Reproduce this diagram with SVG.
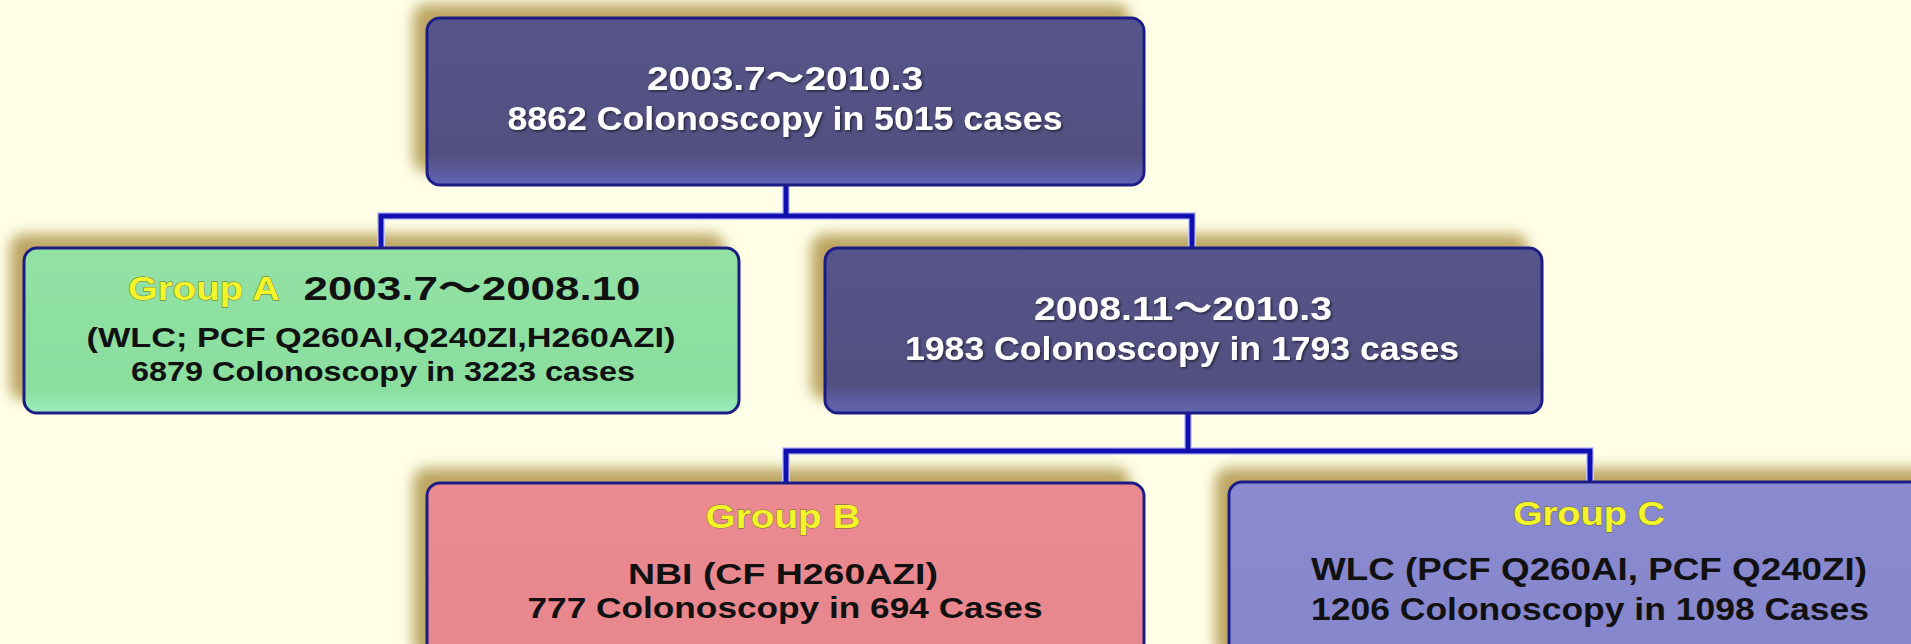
<svg xmlns="http://www.w3.org/2000/svg" width="1911" height="644" viewBox="0 0 1911 644">
<defs>
<filter id="blur" x="-10%" y="-30%" width="120%" height="160%"><feGaussianBlur stdDeviation="7"/></filter>
<filter id="tsh" x="-5%" y="-20%" width="110%" height="140%"><feDropShadow dx="1.5" dy="1.5" stdDeviation="0.8" flood-color="#000" flood-opacity="0.55"/></filter>
<linearGradient id="gDark" x1="0" y1="0" x2="0" y2="1">
<stop offset="0" stop-color="#57548A"/><stop offset="0.82" stop-color="#524F80"/><stop offset="1" stop-color="#6264B4"/></linearGradient>
<linearGradient id="gGreen" x1="0" y1="0" x2="0" y2="1">
<stop offset="0" stop-color="#92E2A4"/><stop offset="0.85" stop-color="#8ADE9E"/><stop offset="1" stop-color="#9EECC0"/></linearGradient>
<linearGradient id="gPink" x1="0" y1="0" x2="0" y2="1">
<stop offset="0" stop-color="#EC8A92"/><stop offset="1" stop-color="#E8868E"/></linearGradient>
<linearGradient id="gLav" x1="0" y1="0" x2="0" y2="1">
<stop offset="0" stop-color="#8A8AD0"/><stop offset="1" stop-color="#8686CC"/></linearGradient>
</defs>
<style>
.shadow{fill:#BCA460;filter:url(#blur)}
.box{stroke:#1C1C86;stroke-width:3}
.t{font-family:"Liberation Sans","Noto Sans CJK JP",sans-serif;font-weight:bold;text-anchor:middle}
.w{fill:#FFFFFF;filter:url(#tsh)}
.k{fill:#111111}
.y{fill:#F4F42A;stroke:#6A6A20;stroke-width:0.8;paint-order:stroke}
.con{fill:none;stroke-linecap:square}
.halo{stroke:#C8CCF4;stroke-width:8}
.core{stroke:#1010B0;stroke-width:5}
</style>
<rect width="1911" height="644" fill="#FFFFE8"/>

<g id="shadows">
<rect class="shadow" x="413" y="4" width="717" height="168" rx="14"/>
<rect class="shadow" x="10" y="234" width="715" height="166" rx="14"/>
<rect class="shadow" x="811" y="234" width="717" height="166" rx="14"/>
<rect class="shadow" x="413" y="468" width="717" height="190" rx="14"/>
<rect class="shadow" x="1215" y="468" width="720" height="190" rx="14"/>
</g>

<g id="connectors">
<path class="con halo" d="M786 185 V216 M381 216 H1192 M381 216 V247 M1192 216 V247 M1188 413 V451 M786 451 H1590 M786 451 V482 M1590 451 V482"/>
<path class="con core" d="M786 185 V216 M381 216 H1192 M381 216 V247 M1192 216 V247 M1188 413 V451 M786 451 H1590 M786 451 V482 M1590 451 V482"/>
</g>

<g id="node-top">
<rect class="box" x="427" y="18" width="717" height="167" rx="13" fill="url(#gDark)"/>
<text class="t w" x="785" y="90" font-size="34" textLength="276" lengthAdjust="spacingAndGlyphs">2003.7～2010.3</text>
<text class="t w" x="785" y="130" font-size="33" textLength="555" lengthAdjust="spacingAndGlyphs">8862 Colonoscopy in  5015 cases</text>
</g>

<g id="node-groupA">
<rect class="box" x="24" y="248" width="715" height="165" rx="13" fill="url(#gGreen)"/>
<text class="t y" x="204" y="300" font-size="33" textLength="152" lengthAdjust="spacingAndGlyphs">Group A</text>
<text class="t k" x="472" y="300" font-size="34" textLength="337" lengthAdjust="spacingAndGlyphs">2003.7～2008.10</text>
<text class="t k" x="381" y="347" font-size="28" textLength="589" lengthAdjust="spacingAndGlyphs">(WLC; PCF Q260AI,Q240ZI,H260AZI)</text>
<text class="t k" x="383" y="381" font-size="28" textLength="504" lengthAdjust="spacingAndGlyphs">6879 Colonoscopy in  3223 cases</text>
</g>

<g id="node-mid">
<rect class="box" x="825" y="248" width="717" height="165" rx="13" fill="url(#gDark)"/>
<text class="t w" x="1183" y="320" font-size="34" textLength="298" lengthAdjust="spacingAndGlyphs">2008.11～2010.3</text>
<text class="t w" x="1182" y="360" font-size="33" textLength="554" lengthAdjust="spacingAndGlyphs">1983 Colonoscopy in  1793 cases</text>
</g>

<g id="node-groupB">
<rect class="box" x="427" y="483" width="717" height="180" rx="13" fill="url(#gPink)"/>
<text class="t y" x="783" y="528" font-size="34" textLength="155" lengthAdjust="spacingAndGlyphs">Group B</text>
<text class="t k" x="783" y="584" font-size="29" textLength="310" lengthAdjust="spacingAndGlyphs">NBI (CF H260AZI)</text>
<text class="t k" x="785" y="618" font-size="29" textLength="515" lengthAdjust="spacingAndGlyphs">777 Colonoscopy in 694 Cases</text>
</g>

<g id="node-groupC">
<rect class="box" x="1229" y="482" width="720" height="180" rx="13" fill="url(#gLav)"/>
<text class="t y" x="1589" y="525" font-size="34" textLength="152" lengthAdjust="spacingAndGlyphs">Group C</text>
<text class="t k" x="1589" y="580" font-size="32" textLength="556" lengthAdjust="spacingAndGlyphs">WLC (PCF Q260AI, PCF Q240ZI)</text>
<text class="t k" x="1590" y="620" font-size="32" textLength="558" lengthAdjust="spacingAndGlyphs">1206 Colonoscopy in  1098 Cases</text>
</g>
</svg>
